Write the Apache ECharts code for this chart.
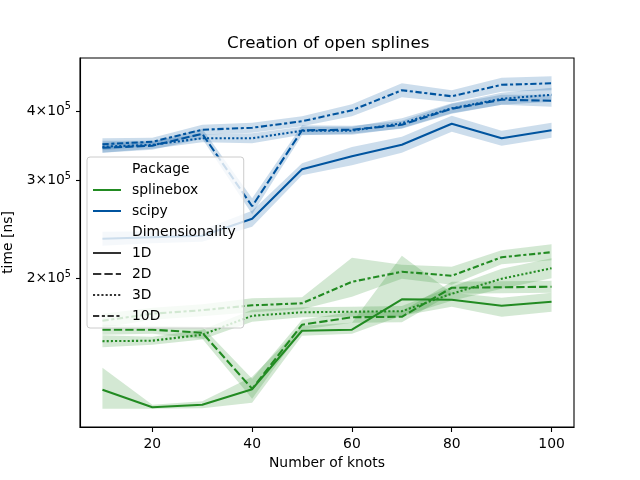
<!DOCTYPE html>
<html>
<head>
<meta charset="utf-8">
<script src="https://cdn.jsdelivr.net/npm/echarts@6/dist/echarts.min.js"></script>
<style>
  html, body { margin: 0; padding: 0; background: #fff; }
  #container { width: 640px; height: 480px; }
</style>
</head>
<body>
<div id="container"></div>
<script>
const knots = [10, 20, 30, 40, 50, 60, 70, 80, 90, 100];

// scipy
const scipy1D    = [236000, 237400, 238900, 256300, 314500, 331900, 348000, 379600, 357500, 369500];
const scipy1D_lo = [229300, 231600, 233100, 248000, 306800, 319800, 336700, 367300, 346600, 358200];
const scipy1D_hi = [242900, 243400, 244900, 264900, 322400, 344700, 359700, 392400, 368800, 381100];
const scipy2D    = [343700, 346600, 364200, 269900, 369500, 370300, 378000, 403900, 419200, 417500];
const scipy2D_lo = [336700, 340900, 356700, 261100, 361900, 364200, 371800, 395600, 410600, 407300];
const scipy2D_hi = [350900, 352400, 371800, 279000, 377200, 376500, 384300, 412300, 428000, 428000];
const scipy3D    = [345200, 348000, 357500, 357500, 368800, 368800, 380400, 404700, 420900, 427900];
const scipy3D_lo = [336700, 342300, 351600, 350200, 362700, 362700, 372600, 396400, 410600, 415700];
const scipy3D_hi = [353900, 353800, 363500, 365000, 375000, 375000, 388400, 413200, 431500, 440500];
const scipy10D    = [348800, 352400, 370300, 373400, 383500, 401400, 436000, 425300, 446000, 448700];
const scipy10D_lo = [340300, 346600, 362700, 365800, 375600, 391600, 423500, 414900, 433300, 435900];
const scipy10D_hi = [357600, 358300, 378000, 381200, 391500, 411500, 448800, 436000, 459100, 461900];

// splinebox
const sbox1D    = [126400, 117600, 118800, 126700, 161300, 162000, 183700, 183400, 178900, 181900];
const sbox1D_lo = [116900, 116900, 117100, 119800, 158000, 159300, 171600, 178100, 170900, 174500];
const sbox1D_hi = [138400, 118800, 120500, 133400, 164700, 166700, 220000, 188800, 184900, 188800];
const sbox2D    = [162000, 162000, 160000, 126900, 165400, 170600, 170900, 192700, 193100, 193500];
const sbox2D_lo = [158700, 159300, 156100, 121800, 162000, 166800, 167100, 188000, 188400, 188800];
const sbox2D_hi = [165400, 164700, 164000, 132300, 168900, 174500, 174800, 197500, 197900, 198400];
const sbox3D    = [154500, 154800, 158700, 171600, 174100, 174500, 174900, 188000, 200000, 208900];
const sbox3D_lo = [150700, 152300, 155500, 167400, 170500, 170900, 171300, 182600, 191900, 200400];
const sbox3D_hi = [158400, 157400, 162000, 175900, 177700, 178100, 178600, 193500, 208400, 217700];
const sbox10D    = [168100, 173100, 175600, 179200, 180700, 197500, 205900, 202500, 218600, 223200];
const sbox10D_lo = [163300, 168900, 171300, 174100, 176300, 185700, 200000, 195100, 212400, 216000];
const sbox10D_hi = [173000, 177400, 180000, 184500, 185200, 218100, 212000, 210200, 225000, 230700];

const yTicks = [200000, 300000, 400000];
const xTicks = [20, 40, 60, 80, 100];

const GREEN = '#228b22';
const BLUE = '#00549f';
const GREY = '#333333';
const FONT = 'DejaVu Sans';

// seaborn default dashes, scaled by linewidth 1.5pt at 100 dpi
const dashes = {
  '1D': 'solid',
  '2D': [8.3, 3.1],
  '3D': [2.1, 2.1],
  '10D': [6.25, 2.6, 3.1, 2.6]
};

const groups = [
  { pkg: 'splinebox', dim: '1D', color: GREEN, mean: sbox1D, lo: sbox1D_lo, hi: sbox1D_hi },
  { pkg: 'splinebox', dim: '2D', color: GREEN, mean: sbox2D, lo: sbox2D_lo, hi: sbox2D_hi },
  { pkg: 'splinebox', dim: '3D', color: GREEN, mean: sbox3D, lo: sbox3D_lo, hi: sbox3D_hi },
  { pkg: 'splinebox', dim: '10D', color: GREEN, mean: sbox10D, lo: sbox10D_lo, hi: sbox10D_hi },
  { pkg: 'scipy', dim: '1D', color: BLUE, mean: scipy1D, lo: scipy1D_lo, hi: scipy1D_hi },
  { pkg: 'scipy', dim: '2D', color: BLUE, mean: scipy2D, lo: scipy2D_lo, hi: scipy2D_hi },
  { pkg: 'scipy', dim: '3D', color: BLUE, mean: scipy3D, lo: scipy3D_lo, hi: scipy3D_hi },
  { pkg: 'scipy', dim: '10D', color: BLUE, mean: scipy10D, lo: scipy10D_lo, hi: scipy10D_hi }
];

const series = [];

// confidence bands
groups.forEach(function (g) {
  series.push({
    type: 'custom',
    z: 1,
    silent: true,
    data: knots.map((k, i) => [k, g.lo[i], g.hi[i]]),
    encode: { x: 0, y: [1, 2] },
    renderItem: function (params, api) {
      if (params.dataIndex !== 0) return;
      const pts = [];
      for (let i = 0; i < knots.length; i++) pts.push(api.coord([knots[i], g.hi[i]]));
      for (let i = knots.length - 1; i >= 0; i--) pts.push(api.coord([knots[i], g.lo[i]]));
      return {
        type: 'polygon',
        shape: { points: pts },
        style: { fill: g.color, opacity: 0.2, stroke: null }
      };
    }
  });
});

// mean lines
groups.forEach(function (g) {
  series.push({
    type: 'line',
    z: 3,
    silent: true,
    symbol: 'none',
    data: knots.map((k, i) => [k, g.mean[i]]),
    lineStyle: { color: g.color, width: 2.08, type: dashes[g.dim] },
    itemStyle: { color: g.color }
  });
});

// legend-only series
const legendEntries = [
  { name: 'Package', color: '#fff', type: 'solid', hidden: true },
  { name: 'splinebox', color: GREEN, type: 'solid' },
  { name: 'scipy', color: BLUE, type: 'solid' },
  { name: 'Dimensionality', color: '#fff', type: 'solid', hidden: true },
  { name: '1D', color: GREY, type: dashes['1D'] },
  { name: '2D', color: GREY, type: dashes['2D'] },
  { name: '3D', color: GREY, type: dashes['3D'] },
  { name: '10D', color: GREY, type: dashes['10D'] }
];
legendEntries.forEach(function (e) {
  series.push({
    type: 'line',
    name: e.name,
    symbol: 'none',
    data: [],
    lineStyle: { color: e.color, width: 2.08, type: e.type, opacity: e.hidden ? 0 : 1 },
    itemStyle: { color: e.color, opacity: 0 }
  });
});

function yLabel(v) {
  const d = Math.round(v / 100000);
  return '{m|' + d + '\u00d710}{s|5}';
}

const chart = echarts.init(document.getElementById('container'), null, { renderer: 'canvas' });
chart.setOption({
  animation: false,
  backgroundColor: '#fff',
  textStyle: { fontFamily: FONT },
  title: {
    text: 'Creation of open splines',
    left: 227,
    top: 35,
    padding: 0,
    textStyle: { fontFamily: FONT, fontSize: 16.7, fontWeight: 'normal', color: '#000' }
  },
  grid: {
    left: 80, right: 66, top: 58, bottom: 53,
    containLabel: false,
    outerBoundsMode: 'none',
    show: true, borderColor: '#000', borderWidth: 1.1, backgroundColor: 'transparent'
  },
  legend: {
    orient: 'vertical',
    left: 87,
    top: 157,
    padding: [5, 8, 5, 5],
    itemWidth: 28,
    itemHeight: 14,
    itemGap: 7,
    backgroundColor: 'rgba(255,255,255,0.8)',
    borderColor: '#cccccc',
    borderWidth: 1,
    borderRadius: 3,
    selectedMode: false,
    itemStyle: { opacity: 0 },
    data: legendEntries.map(e => e.name),
    textStyle: { fontFamily: FONT, fontSize: 13.9, color: '#000', padding: [0, 0, 0, 6] }
  },
  xAxis: {
    type: 'value',
    min: 5.5,
    max: 104.5,
    name: 'Number of knots',
    nameLocation: 'middle',
    nameGap: 29,
    nameTextStyle: { fontFamily: FONT, fontSize: 13.9, color: '#000' },
    axisLine: { show: true, onZero: false, lineStyle: { color: '#000', width: 1.1 } },
    axisTick: { show: true, length: 5, customValues: xTicks, lineStyle: { color: '#000', width: 1.1 } },
    axisLabel: { customValues: xTicks, fontFamily: FONT, fontSize: 13.9, color: '#000', margin: 10 },
    splitLine: { show: false }
  },
  yAxis: {
    type: 'log',
    logBase: 10,
    min: 108350,
    max: 498200,
    name: 'time [ns]',
    nameLocation: 'middle',
    nameGap: 63,
    nameRotate: 90,
    nameTextStyle: { fontFamily: FONT, fontSize: 13.9, color: '#000' },
    axisLine: { show: true, onZero: false, lineStyle: { color: '#000', width: 1.1 } },
    axisTick: { show: true, length: 4, customValues: yTicks, lineStyle: { color: '#000', width: 1.1 } },
    axisLabel: {
      customValues: yTicks,
      formatter: yLabel,
      margin: 9,
      rich: {
        m: { fontFamily: FONT, fontSize: 13.9, color: '#000' },
        s: { fontFamily: FONT, fontSize: 9.7, color: '#000', padding: [0, 0, 9, 0] }
      }
    },
    splitLine: { show: false },
    minorTick: { show: false }
  },
  series: series
});
</script>
</body>
</html>
